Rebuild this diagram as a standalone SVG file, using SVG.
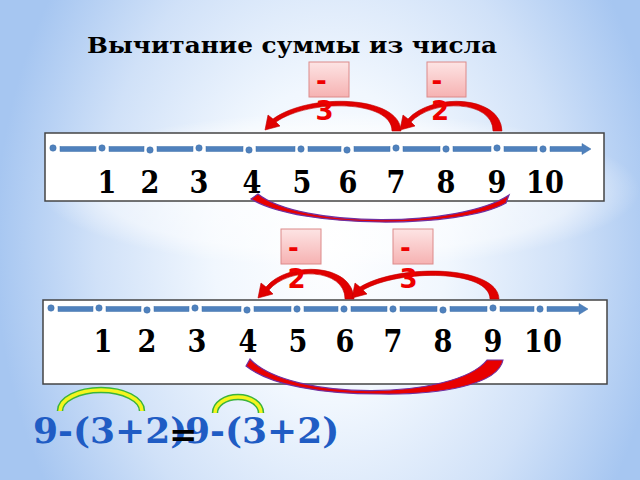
<svg xmlns="http://www.w3.org/2000/svg" width="640" height="480" viewBox="0 0 640 480">
<defs>
<radialGradient id="bg" gradientUnits="userSpaceOnUse" cx="330" cy="245" r="335" gradientTransform="translate(330,245) scale(1,1.35) translate(-330,-245)">
<stop offset="0" stop-color="#ffffff"/>
<stop offset="0.35" stop-color="#f1f7fe"/>
<stop offset="0.7" stop-color="#d0e1f8"/>
<stop offset="1" stop-color="#a6c6f1"/>
</radialGradient>
<radialGradient id="glow" cx="0.5" cy="0.5" r="0.5">
<stop offset="0" stop-color="#ffffff" stop-opacity="0.8"/>
<stop offset="0.8" stop-color="#ffffff" stop-opacity="0.5"/>
<stop offset="1" stop-color="#ffffff" stop-opacity="0"/>
</radialGradient>
<linearGradient id="pink" x1="0" y1="0" x2="0" y2="1">
<stop offset="0" stop-color="#fde4e4"/>
<stop offset="1" stop-color="#f6b2b2"/>
</linearGradient>
<style>
.box{fill:#ffffff;stroke:#444444;stroke-width:1.5}
.dash{fill:#4f81bd;stroke:#3f70aa;stroke-width:0.5}
.dot{fill:#4f81bd;stroke:#3f70aa;stroke-width:0.5}
.num{font-family:"DejaVu Serif","Liberation Serif",serif;font-weight:bold;font-size:32px;fill:#000000;text-anchor:middle}
.title{font-family:"DejaVu Serif","Liberation Serif",serif;font-weight:bold;font-size:23px;fill:#000000}
.lbl{fill:url(#pink);stroke:#dc8a8a;stroke-width:1}
.ltxt{font-family:"DejaVu Sans","Liberation Sans",sans-serif;font-weight:bold;font-size:26px;fill:#ee0000}
.arc{fill:#e00000;stroke:#c00000;stroke-width:0.6}
.cres{fill:#e80000;stroke:#7030a0;stroke-width:1.2}
.formula{font-family:"DejaVu Serif","Liberation Serif",serif;font-weight:bold;font-size:36px;fill:#1f5cc4}
.eq{font-family:"DejaVu Serif","Liberation Serif",serif;font-weight:bold;font-size:34px;fill:#000000}
.brace-o{fill:none;stroke:#3cb43c;stroke-width:6.5}
.brace-i{fill:none;stroke:#f5f51e;stroke-width:3.5}
</style>
</defs>

<g id="background">
<rect x="0" y="0" width="640" height="480" fill="url(#bg)"/>
<ellipse cx="340" cy="190" rx="300" ry="78" fill="url(#glow)"/>
</g>

<g id="title">
<text class="title" x="87" y="53" textLength="410" lengthAdjust="spacingAndGlyphs">Вычитание суммы из числа</text>
</g>

<g id="numberline-1">
<rect class="box" x="45" y="133" width="559" height="68"/>
<g>
<rect class="dash" x="60" y="146.5" width="36" height="5"/>
<rect class="dash" x="109" y="146.5" width="35" height="5"/>
<rect class="dash" x="157" y="146.5" width="36" height="5"/>
<rect class="dash" x="206" y="146.5" width="37" height="5"/>
<rect class="dash" x="256" y="146.5" width="39" height="5"/>
<rect class="dash" x="308" y="146.5" width="33" height="5"/>
<rect class="dash" x="354" y="146.5" width="36" height="5"/>
<rect class="dash" x="403" y="146.5" width="37" height="5"/>
<rect class="dash" x="453" y="146.5" width="38" height="5"/>
<rect class="dash" x="504" y="146.5" width="33" height="5"/>
<path class="dash" d="M550,146.5 H582 V143.5 L591,149 L582,154.5 V151.5 H550 Z"/>
<circle class="dot" cx="53" cy="148" r="3.2"/>
<circle class="dot" cx="102" cy="148" r="3.2"/>
<circle class="dot" cx="150" cy="150" r="3.2"/>
<circle class="dot" cx="199" cy="148" r="3.2"/>
<circle class="dot" cx="249" cy="150" r="3.2"/>
<circle class="dot" cx="301" cy="149" r="3.2"/>
<circle class="dot" cx="347" cy="150" r="3.2"/>
<circle class="dot" cx="396" cy="148" r="3.2"/>
<circle class="dot" cx="446" cy="149" r="3.2"/>
<circle class="dot" cx="497" cy="148" r="3.2"/>
<circle class="dot" cx="543" cy="149" r="3.2"/>
</g>
<text class="num" transform="translate(107,193) scale(0.85,1)">1</text>
<text class="num" transform="translate(150,193) scale(0.85,1)">2</text>
<text class="num" transform="translate(199,193) scale(0.85,1)">3</text>
<text class="num" transform="translate(252,193) scale(0.85,1)">4</text>
<text class="num" transform="translate(302,193) scale(0.85,1)">5</text>
<text class="num" transform="translate(348,193) scale(0.85,1)">6</text>
<text class="num" transform="translate(396,193) scale(0.85,1)">7</text>
<text class="num" transform="translate(446,193) scale(0.85,1)">8</text>
<text class="num" transform="translate(497,193) scale(0.85,1)">9</text>
<text class="num" transform="translate(545,193) scale(0.85,1)">10</text>
</g>

<g id="numberline-2">
<rect class="box" x="43" y="300" width="564" height="84"/>
<g>
<rect class="dash" x="58" y="306.5" width="35" height="5"/>
<rect class="dash" x="106" y="306.5" width="35" height="5"/>
<rect class="dash" x="154" y="306.5" width="35" height="5"/>
<rect class="dash" x="202" y="306.5" width="39" height="5"/>
<rect class="dash" x="254" y="306.5" width="37" height="5"/>
<rect class="dash" x="304" y="306.5" width="34" height="5"/>
<rect class="dash" x="351" y="306.5" width="36" height="5"/>
<rect class="dash" x="400" y="306.5" width="37" height="5"/>
<rect class="dash" x="450" y="306.5" width="37" height="5"/>
<rect class="dash" x="500" y="306.5" width="34" height="5"/>
<path class="dash" d="M547,306.5 H579 V303.5 L588,309 L579,314.5 V311.5 H547 Z"/>
<circle class="dot" cx="51" cy="308" r="3.2"/>
<circle class="dot" cx="99" cy="308" r="3.2"/>
<circle class="dot" cx="147" cy="310" r="3.2"/>
<circle class="dot" cx="195" cy="308" r="3.2"/>
<circle class="dot" cx="247" cy="310" r="3.2"/>
<circle class="dot" cx="297" cy="309" r="3.2"/>
<circle class="dot" cx="344" cy="309" r="3.2"/>
<circle class="dot" cx="393" cy="309" r="3.2"/>
<circle class="dot" cx="443" cy="310" r="3.2"/>
<circle class="dot" cx="493" cy="308" r="3.2"/>
<circle class="dot" cx="540" cy="309" r="3.2"/>
</g>
<text class="num" transform="translate(103,352) scale(0.85,1)">1</text>
<text class="num" transform="translate(147,352) scale(0.85,1)">2</text>
<text class="num" transform="translate(197,352) scale(0.85,1)">3</text>
<text class="num" transform="translate(248,352) scale(0.85,1)">4</text>
<text class="num" transform="translate(298,352) scale(0.85,1)">5</text>
<text class="num" transform="translate(345,352) scale(0.85,1)">6</text>
<text class="num" transform="translate(393,352) scale(0.85,1)">7</text>
<text class="num" transform="translate(443,352) scale(0.85,1)">8</text>
<text class="num" transform="translate(493,352) scale(0.85,1)">9</text>
<text class="num" transform="translate(543,352) scale(0.85,1)">10</text>
</g>

<g id="connectors">
<path class="arc" d="M401,131 C400,95.4 309.6,92.3 273,119 L268,115 L265,130 L280,126 L276,122 C309.6,98.5 392,100 392,131 Z"/>
<path class="arc" d="M502,131 C501,95.4 432.7,92.3 408,119 L403,115 L400,130 L415,126 L411,122 C432.7,98.5 493,100 493,131 Z"/>
<path class="cres" d="M251,199 L258,194 C300,228 460,228 509,195 L506,203 C460,229 300,229 251,199 Z"/>
<path class="arc" d="M354,299 C353,263.4 288.6,260.3 266,287 L261,283 L258,298 L273,294 L269,290 C288.6,266.5 345,268 345,299 Z"/>
<path class="arc" d="M499,299 C498,265.7 400.4,262.8 360,287 L355,283 L352,298 L367,294 L363,290 C400.4,268.6 490,270 490,299 Z"/>
<path class="cres" d="M250,359 C290,402 455,400 487,360 L503,360 C498,385 440,395 380,394 C320,394 270,385 246,366 Z"/>
</g>

<g id="label-minus3-a">
<rect class="lbl" x="309" y="62" width="40" height="35"/>
<text class="ltxt" x="316" y="90">-</text>
<text class="ltxt" x="315.5" y="120">3</text>
</g>
<g id="label-minus2-a">
<rect class="lbl" x="427" y="62" width="39" height="35"/>
<text class="ltxt" x="431.5" y="90">-</text>
<text class="ltxt" x="431" y="120">2</text>
</g>
<g id="label-minus2-b">
<rect class="lbl" x="281" y="229" width="40" height="35"/>
<text class="ltxt" x="288" y="257">-</text>
<text class="ltxt" x="287.5" y="288">2</text>
</g>
<g id="label-minus3-b">
<rect class="lbl" x="393" y="229" width="40" height="35"/>
<text class="ltxt" x="400" y="257">-</text>
<text class="ltxt" x="399.5" y="288">3</text>
</g>

<g id="formula">
<path class="brace-o" d="M60,411 A41,21 0 0 1 142,411"/>
<path class="brace-i" d="M60,411 A41,21 0 0 1 142,411"/>
<path class="brace-o" d="M215,413 A23,16 0 0 1 261,413"/>
<path class="brace-i" d="M215,413 A23,16 0 0 1 261,413"/>
<text class="formula" x="33" y="443">9-(3+2)</text>
<text class="formula" x="185" y="443">9-(3+2)</text>
<text class="eq" x="169" y="446">=</text>
</g>
</svg>
